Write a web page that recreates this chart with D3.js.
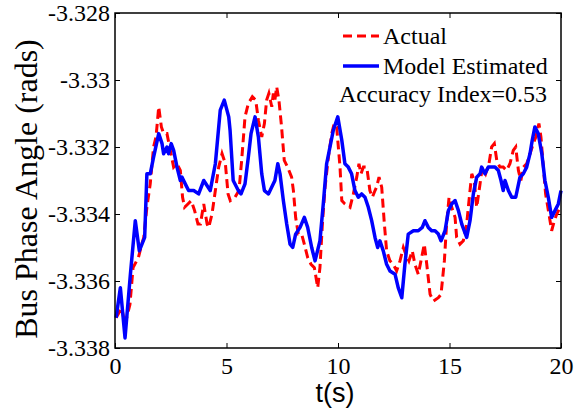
<!DOCTYPE html>
<html>
<head>
<meta charset="utf-8">
<script src="https://cdn.jsdelivr.net/npm/d3@7"></script>
<style>
  body { margin: 0; background: #fff; }
</style>
</head>
<body>
<script>
// chart size
var w = 578;
var h = 409;
var margin = {top: 13, right: 17, bottom: 61, left: 115};
var serif = "'Liberation Serif', 'Times New Roman', serif";
var sans = "'Liberation Sans', Arial, sans-serif";

// measured (red dashed) series
var tActual = [0.05, 0.30, 0.45, 0.67, 0.81, 1.05, 1.20, 1.29, 1.43, 1.58, 1.73, 1.84, 1.96, 2.08, 2.18, 2.33, 2.48, 2.63, 2.78, 2.93,
  3.03, 3.12, 3.27, 3.42, 3.57, 3.72, 3.83, 3.98, 4.13, 4.20, 4.35, 4.50, 4.65, 4.80, 4.95, 5.07, 5.17, 5.38, 5.56, 5.68,
  5.83, 5.98, 6.16, 6.31, 6.43, 6.58, 6.70, 6.80, 6.90, 7.03, 7.10, 7.17, 7.25, 7.35, 7.47, 7.59, 7.74, 7.92, 8.00, 8.10,
  8.22, 8.37, 8.49, 8.64, 8.79, 8.94, 9.09, 9.19, 9.30, 9.42, 9.57, 9.72, 9.83, 9.94, 10.09, 10.17, 10.31, 10.54, 10.69, 10.84,
  10.94, 11.03, 11.14, 11.29, 11.43, 11.54, 11.66, 11.73, 11.84, 11.96, 12.08, 12.18, 12.33, 12.48, 12.63, 12.78, 12.93, 13.04, 13.18, 13.33,
  13.45, 13.60, 13.72, 13.87, 13.98, 14.13, 14.28, 14.50, 14.62, 14.77, 14.87, 14.98, 15.10, 15.25, 15.32, 15.47, 15.62, 15.77, 15.92, 16.00,
  16.11, 16.22, 16.37, 16.47, 16.62, 16.77, 16.89, 17.01, 17.12, 17.26, 17.41, 17.56, 17.71, 17.86, 17.97, 18.09, 18.20, 18.31, 18.46, 18.61,
  18.76, 18.87, 19.01, 19.10, 19.21, 19.31, 19.46, 19.58, 19.70, 19.81, 19.96];
var actual = [-3.3371, -3.3368, -3.3373, -3.3367, -3.3356, -3.3353, -3.3349, -3.3347, -3.3338, -3.3331, -3.3320, -3.3317, -3.3308, -3.3314, -3.3316, -3.3316, -3.3321, -3.3326, -3.3325, -3.3327,
  -3.3335, -3.3338, -3.3337, -3.3336, -3.3339, -3.3343, -3.3343, -3.3337, -3.3343, -3.3344, -3.3340, -3.3333, -3.3326, -3.3322, -3.3325, -3.3334, -3.3336, -3.3335, -3.3333, -3.3324,
  -3.3311, -3.3307, -3.3305, -3.3306, -3.3312, -3.3317, -3.3313, -3.3306, -3.3304, -3.3308, -3.3304, -3.3306, -3.3302, -3.3306, -3.3314, -3.3324, -3.3326, -3.3329, -3.3333, -3.3341,
  -3.3346, -3.3346, -3.3349, -3.3353, -3.3355, -3.3356, -3.3362, -3.3356, -3.3343, -3.3332, -3.3323, -3.3316, -3.3313, -3.3314, -3.3326, -3.3336, -3.3337, -3.3338, -3.3334, -3.3329,
  -3.3325, -3.3328, -3.3326, -3.3326, -3.3333, -3.3335, -3.3333, -3.3332, -3.3329, -3.3332, -3.3343, -3.3351, -3.3354, -3.3355, -3.3357, -3.3354, -3.3350, -3.3352, -3.3354, -3.3351,
  -3.3355, -3.3358, -3.3354, -3.3349, -3.3355, -3.3364, -3.3366, -3.3365, -3.3364, -3.3354, -3.3343, -3.3335, -3.3338, -3.3341, -3.3347, -3.3349, -3.3348, -3.3343, -3.3333, -3.3328,
  -3.3330, -3.3338, -3.3331, -3.3326, -3.3328, -3.3325, -3.3320, -3.3319, -3.3324, -3.3326, -3.3326, -3.3327, -3.3325, -3.3321, -3.3320, -3.3327, -3.3330, -3.3326, -3.3325, -3.3322,
  -3.3319, -3.3317, -3.3313, -3.3317, -3.3326, -3.3334, -3.3340, -3.3345, -3.3342, -3.3340, -3.3338];

// model estimated (blue solid) series
var tModel = [0.05, 0.24, 0.45, 0.69, 0.91, 1.09, 1.33, 1.43, 1.58, 1.73, 1.96, 2.11, 2.18, 2.33, 2.40, 2.52, 2.63, 2.78, 2.93, 3.00,
  3.15, 3.30, 3.53, 3.75, 3.98, 4.27, 4.50, 4.72, 4.90, 5.10, 5.16, 5.30, 5.53, 5.65, 5.83, 5.98, 6.10, 6.28, 6.43, 6.58,
  6.70, 6.88, 7.10, 7.17, 7.30, 7.40, 7.55, 7.70, 7.85, 7.97, 8.10, 8.30, 8.49, 8.64, 8.82, 8.97, 9.19, 9.34, 9.49, 9.64,
  9.79, 9.99, 10.17, 10.31, 10.46, 10.61, 10.76, 10.91, 11.06, 11.21, 11.36, 11.51, 11.66, 11.78, 11.88, 12.03, 12.18, 12.33, 12.56, 12.70,
  12.86, 13.00, 13.15, 13.38, 13.60, 13.78, 13.90, 14.05, 14.20, 14.35, 14.50, 14.62, 14.80, 14.95, 15.10, 15.25, 15.40, 15.55, 15.77, 15.92,
  16.07, 16.22, 16.37, 16.44, 16.59, 16.74, 16.89, 17.04, 17.19, 17.31, 17.41, 17.49, 17.64, 17.79, 17.97, 18.16, 18.31, 18.46, 18.61, 18.71,
  18.83, 18.98, 19.14, 19.28, 19.43, 19.58, 19.73, 19.88, 20.00];
var model = [-3.3371, -3.3362, -3.3377, -3.3358, -3.3342, -3.3351, -3.3347, -3.3328, -3.3328, -3.3323, -3.3316, -3.3319, -3.3322, -3.3320, -3.3322, -3.3319, -3.3321, -3.3326, -3.3330, -3.3329,
  -3.3331, -3.3333, -3.3333, -3.3334, -3.3330, -3.3333, -3.3325, -3.3309, -3.3306, -3.3311, -3.3315, -3.3330, -3.3333, -3.3334, -3.3331, -3.3323, -3.3316, -3.3311, -3.3317, -3.3328,
  -3.3333, -3.3334, -3.3331, -3.3330, -3.3325, -3.3328, -3.3336, -3.3343, -3.3349, -3.3350, -3.3346, -3.3344, -3.3341, -3.3344, -3.3350, -3.3354, -3.3348, -3.3337, -3.3325, -3.3320,
  -3.3315, -3.3311, -3.3318, -3.3325, -3.3326, -3.3328, -3.3333, -3.3335, -3.3334, -3.3335, -3.3338, -3.3342, -3.3347, -3.3350, -3.3348, -3.3351, -3.3355, -3.3357, -3.3358, -3.3362,
  -3.3365, -3.3355, -3.3346, -3.3345, -3.3345, -3.3344, -3.3342, -3.3344, -3.3345, -3.3345, -3.3346, -3.3348, -3.3345, -3.3339, -3.3337, -3.3336, -3.3339, -3.3343, -3.3347, -3.3342,
  -3.3334, -3.3329, -3.3328, -3.3326, -3.3328, -3.3326, -3.3326, -3.3326, -3.3327, -3.3330, -3.3333, -3.3330, -3.3333, -3.3335, -3.3335, -3.3329, -3.3328, -3.3326, -3.3322, -3.3318,
  -3.3314, -3.3316, -3.3322, -3.3330, -3.3335, -3.3341, -3.3339, -3.3337, -3.3333];

// axis ticks
var xTicks = [0, 5, 10, 15, 20];
var yTicks = [-3.338, -3.336, -3.334, -3.332, -3.330, -3.328];

var innerW = w - margin.left - margin.right;
var innerH = h - margin.top - margin.bottom;

var svg = d3.select("body").append("svg")
  .attr("width", w)
  .attr("height", h);

var g = svg.append("g")
  .attr("transform", "translate(" + margin.left + "," + margin.top + ")");

var xScale = d3.scaleLinear().domain([0, 20]).range([0, innerW]);
var yScale = d3.scaleLinear().domain([-3.338, -3.328]).range([innerH, 0]);

// bottom axis, ticks pointing inward
var xAxis = g.append("g")
  .attr("transform", "translate(0," + innerH + ")")
  .call(d3.axisBottom(xScale).tickValues(xTicks).tickSize(-5).tickPadding(9).tickFormat(d3.format("d")));
xAxis.selectAll("text").attr("fill", "#000")
  .style("font-size", "24px").style("font-family", serif);

// top axis, ticks only
g.append("g")
  .call(d3.axisTop(xScale).tickValues(xTicks).tickSize(-5).tickFormat(""));

// left axis
var yAxis = g.append("g")
  .call(d3.axisLeft(yScale).tickValues(yTicks).tickSize(-5).tickPadding(5)
    .tickFormat(function(d) { return String(+d.toFixed(3)); }));
yAxis.selectAll("text").attr("fill", "#000")
  .style("font-size", "24px").style("font-family", serif);

// right axis, ticks only
g.append("g")
  .attr("transform", "translate(" + innerW + ",0)")
  .call(d3.axisRight(yScale).tickValues(yTicks).tickSize(-5).tickFormat(""));

g.selectAll(".domain").remove();
g.selectAll(".tick line").attr("stroke", "#000").attr("stroke-width", 1);

// lines
var line = d3.line()
  .x(function(d) { return xScale(d[0]); })
  .y(function(d) { return yScale(d[1]); });

g.append("path")
  .datum(d3.zip(tActual, actual))
  .attr("d", line)
  .attr("fill", "none")
  .attr("stroke", "#ff0000")
  .attr("stroke-width", 3)
  .attr("stroke-dasharray", "9,5");

g.append("path")
  .datum(d3.zip(tModel, model))
  .attr("d", line)
  .attr("fill", "none")
  .attr("stroke", "#0000ff")
  .attr("stroke-width", 3.5)
  .attr("stroke-linejoin", "round");

// frame
g.append("rect")
  .attr("width", innerW)
  .attr("height", innerH)
  .attr("fill", "none")
  .attr("stroke", "#000")
  .attr("stroke-width", 1.5);

// legend
var legend = svg.append("g").style("font-family", serif).style("font-size", "24px");
legend.append("line")
  .attr("x1", 343).attr("x2", 379).attr("y1", 36).attr("y2", 36)
  .attr("stroke", "#ff0000").attr("stroke-width", 3).attr("stroke-dasharray", "9,5");
legend.append("text")
  .attr("x", 383).attr("y", 44).text("Actual");
legend.append("line")
  .attr("x1", 343).attr("x2", 379).attr("y1", 66).attr("y2", 66)
  .attr("stroke", "#0000ff").attr("stroke-width", 3.5);
legend.append("text")
  .attr("x", 383).attr("y", 74).text("Model Estimated");
legend.append("text")
  .attr("x", 339).attr("y", 102).text("Accuracy Index=0.53");

// axis titles
svg.append("text")
  .attr("x", 335).attr("y", 402)
  .attr("text-anchor", "middle")
  .style("font-family", sans)
  .style("font-size", "27px")
  .text("t(s)");

svg.append("text")
  .attr("transform", "translate(37,189) rotate(-90)")
  .attr("text-anchor", "middle")
  .style("font-family", serif)
  .style("font-size", "32px")
  .text("Bus Phase Angle (rads)");
</script>
</body>
</html>
